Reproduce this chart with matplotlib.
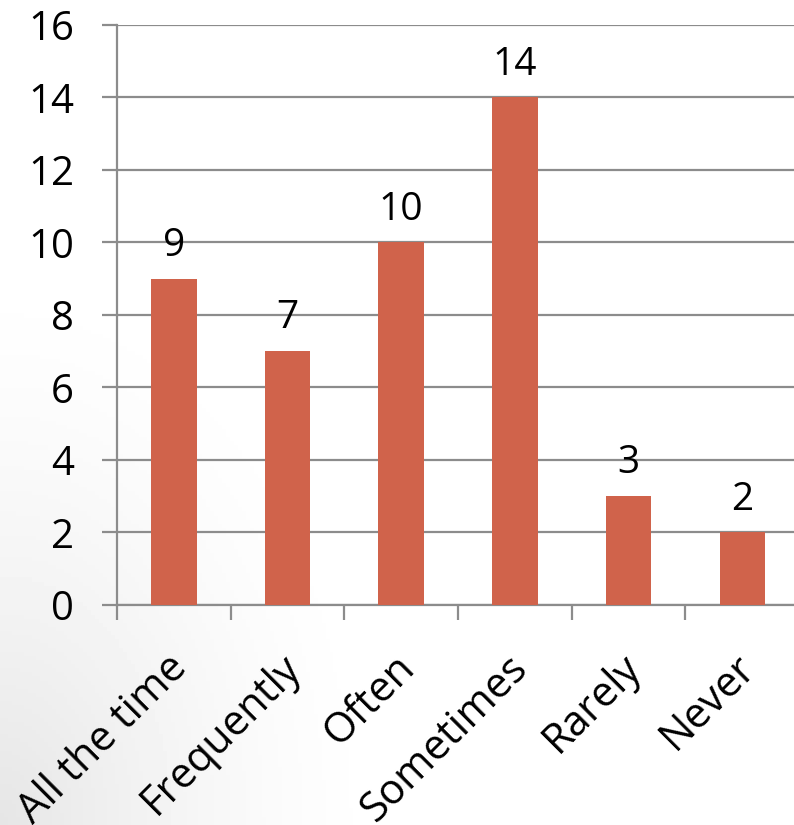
import numpy as np
import matplotlib
matplotlib.use("Agg")
from matplotlib import pyplot as plt

categories = ["All the time", "Frequently", "Often", "Sometimes", "Rarely", "Never"]
counts = [9, 7, 10, 14, 3, 2]
y_ticks = [0, 2, 4, 6, 8, 10, 12, 14, 16]

bar_color = "#D0634B"
grid_color = "#8C8C8C"

plt.rcParams['font.family'] = ['Open Sans', 'DejaVu Sans']

fig = plt.figure(figsize=(7.94, 8.25), dpi=100)

# soft grey shading in the lower left corner of the slide
bg = fig.add_axes([0, 0, 1, 1], zorder=-10)
yy, xx = np.mgrid[0:1:200j, 0:1:200j]
d = np.sqrt((xx / 0.5) ** 2 + ((1 - yy) / 0.7) ** 2)
shade = np.clip(1 - d, 0, 1) ** 1.5 * 0.10
bg.imshow(1 - shade, cmap="gray", vmin=0, vmax=1, extent=[0, 1, 0, 1],
          aspect="auto", origin="upper")
bg.axis("off")

ax = fig.add_axes([0.1474, 0.2667, 0.859, 0.703])
ax.patch.set_alpha(0)
x = np.arange(len(categories))
bars = ax.bar(x, counts, width=0.4, color=bar_color, zorder=3)

for xi, v in zip(x, counts):
    ax.annotate(str(v), (xi, v), xytext=(0, 10), textcoords="offset points",
                ha="center", va="bottom", fontsize=28)

ax.set_xlim(-0.5, 5.5)
ax.set_ylim(0, 16)
ax.set_yticks(y_ticks)
ax.yaxis.grid(True, color=grid_color, linewidth=1.6, zorder=0)
ax.set_axisbelow(True)

# labels hang a little left of each bar centre
ax.set_xticks(x - 0.07)
ax.set_xticklabels(categories, rotation=45, ha="right", rotation_mode="anchor",
                   fontsize=30)
ax.set_xticks(np.arange(-0.5, 6.0, 1.0), minor=True)
ax.tick_params(axis="x", which="major", length=0, pad=30)
ax.tick_params(axis="x", which="minor", length=11, width=1.6, color=grid_color)
ax.tick_params(axis="y", length=11, width=1.6, color=grid_color, pad=20,
               labelsize=29)

for side in ["top", "right"]:
    ax.spines[side].set_visible(False)
for side in ["left", "bottom"]:
    ax.spines[side].set_color(grid_color)
    ax.spines[side].set_linewidth(1.6)

fig.savefig("out.png", dpi=100)
